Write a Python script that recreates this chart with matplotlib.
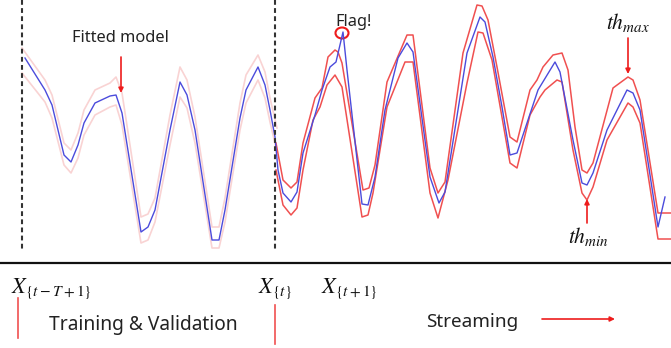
import matplotlib
matplotlib.use("Agg")
import matplotlib.pyplot as plt
from matplotlib.patches import Ellipse

plt.rcParams['mathtext.fontset'] = 'stix'

# ---- data (time position, level; larger = lower on screen) ----
t_obs = [25, 45, 52, 64, 71, 78, 84, 95, 110, 116, 122, 141, 148, 155, 170, 180, 187,
         195, 212, 219, 225, 240, 246, 258, 265, 270, 275,
         278, 283, 291, 297, 303, 315, 322, 330, 336, 343, 347, 362, 368, 375, 385,
         398, 407, 413, 430, 439, 445, 467, 480, 485, 493, 502, 510, 517, 528, 538,
         555, 560, 573, 582, 587, 593, 607, 627, 633, 640, 658, 665]
observed = [58, 90, 105, 155, 162, 145, 123, 103, 96, 95, 113, 232, 227, 210, 130, 82, 95,
            130, 240, 240, 210, 118, 90, 67, 85, 110, 137,
            170, 193, 202, 192, 153, 115, 90, 67, 62, 32, 70, 204, 205, 177, 110,
            58, 43, 52, 177, 203, 192, 53, 17, 22, 57, 107, 155, 153, 120, 90,
            62, 72, 140, 183, 185, 173, 130, 90, 93, 110, 227, 197]

t_fit = [22, 45, 52, 64, 71, 78, 84, 95, 110, 116, 122, 141, 148, 155, 170, 180, 187,
         195, 212, 219, 225, 240, 246, 258, 265, 270, 277]
fit_upper = [48, 80, 95, 143, 150, 133, 110, 90, 83, 77, 93, 217, 214, 198, 115, 67, 80,
             117, 227, 227, 198, 103, 75, 55, 72, 98, 128]
fit_lower = [73, 102, 118, 165, 173, 158, 135, 115, 107, 105, 125, 243, 240, 222, 145, 97, 108,
             143, 248, 248, 222, 130, 103, 80, 98, 122, 152]

t_up = [276, 283, 291, 297, 303, 315, 322, 328, 335, 338, 342, 363, 369, 375, 387, 407, 413,
        430, 438, 445, 463, 477, 482, 488, 497, 510, 517, 530, 537, 543, 553, 562, 568, 575, 582,
        587, 593, 613, 628, 633, 640, 658, 671]
th_max = [143, 180, 188, 182, 143, 98, 88, 57, 50, 52, 63, 190, 188, 165, 82, 35, 35,
          168, 193, 182, 53, 5, 6, 20, 67, 137, 142, 90, 80, 67, 55, 53, 70, 127, 170,
          173, 163, 88, 77, 80, 100, 213, 213]
t_lo = [276, 283, 291, 297, 303, 313, 320, 327, 335, 342, 362, 368, 373, 387, 405, 413,
        430, 438, 448, 467, 478, 483, 492, 510, 517, 530, 540, 545, 557, 562, 573, 582,
        587, 593, 607, 628, 633, 640, 658, 671]
th_min = [170, 205, 215, 208, 170, 120, 107, 85, 75, 87, 217, 215, 193, 107, 62, 62,
          193, 218, 180, 83, 32, 33, 60, 163, 168, 115, 97, 90, 80, 82, 150, 193,
          200, 187, 140, 103, 107, 123, 239, 239]

W, H = 671, 348
fig = plt.figure(figsize=(W / 100, H / 100), dpi=100)
ax = fig.add_axes([0, 0, 1, 1])
ax.set_xlim(0, W)
ax.set_ylim(H, 0)
ax.axis('off')

blue = '#4b4bdc'
red = '#f05050'
pink = '#f9d3d3'
arrow_red = '#ee1c1c'

ax.plot(t_fit, fit_upper, color=pink, lw=1.2)
ax.plot(t_fit, fit_lower, color=pink, lw=1.2)
ax.plot(t_up, th_max, color=red, lw=1.1)
ax.plot(t_lo, th_min, color=red, lw=1.1)
ax.plot(t_obs, observed, color=blue, lw=1.0)

# dashed boundaries
for xv in (22, 275):
    ax.plot([xv, xv], [0, 249], color='#333333', lw=1.5, ls=(0, (2.3, 1.6)))

# separator
ax.plot([0, W], [263, 263], color='#111111', lw=1.6)

txt = dict(family=['Noto Sans', 'DejaVu Sans'], color='#222222')
ax.text(120, 38, 'Fitted model', ha='center', va='center', fontsize=11.8, **txt)
ax.text(354, 22, 'Flag!', ha='center', va='center', fontsize=11.8, **txt)
ax.text(143, 325, 'Training & Validation', ha='center', va='center', fontsize=13.8, **txt)
ax.text(472, 322, 'Streaming', ha='center', va='center', fontsize=13.6, **txt)

ax.text(628, 23, r'$th_{max}$', ha='center', va='center', fontsize=15.5, color='#111111')
ax.text(588, 237, r'$th_{min}$', ha='center', va='center', fontsize=15.5, color='#111111')
ax.text(11, 289, r'$X_{\{t-T+1\}}$', ha='left', va='center', fontsize=16, color='#111111')
ax.text(258, 289, r'$X_{\{t\}}$', ha='left', va='center', fontsize=16, color='#111111')
ax.text(321, 289, r'$X_{\{t+1\}}$', ha='left', va='center', fontsize=16, color='#111111')

aprops = dict(arrowstyle='-|>', color=arrow_red, lw=1.2, mutation_scale=7,
              shrinkA=0, shrinkB=0)
ax.annotate('', xy=(121, 93), xytext=(121, 57), arrowprops=aprops)
ax.annotate('', xy=(628, 74), xytext=(628, 38), arrowprops=aprops)
ax.annotate('', xy=(587, 199), xytext=(587, 223), arrowprops=aprops)
ax.annotate('', xy=(615, 319), xytext=(542, 319), arrowprops=aprops)

ax.add_patch(Ellipse((342, 33), 13, 11, fill=False, edgecolor=arrow_red, lw=1.5))

ax.plot([18, 18], [298, 338], color=red, lw=1.2)
ax.plot([275, 275], [305, 344], color=red, lw=1.2)

fig.savefig('out.png', dpi=100)
